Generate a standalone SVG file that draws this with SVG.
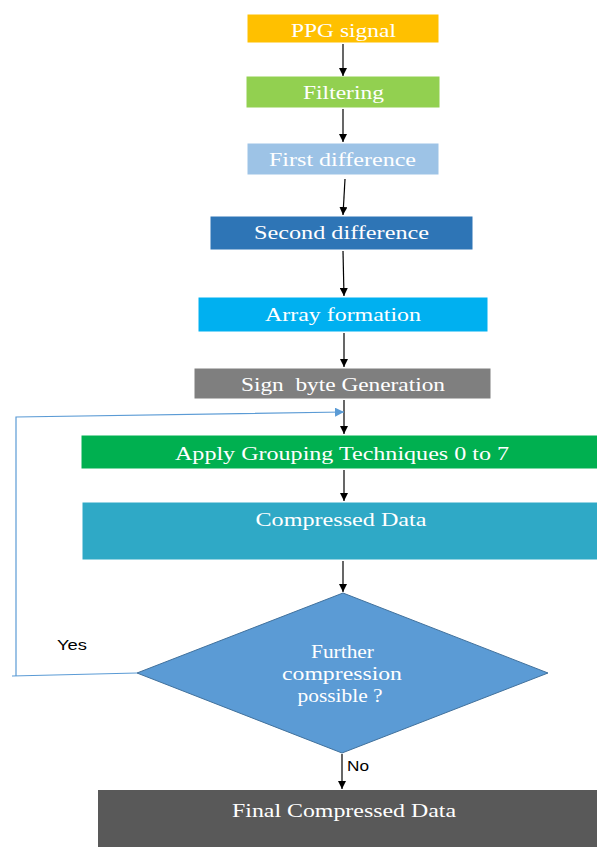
<svg xmlns="http://www.w3.org/2000/svg" width="597" height="847" viewBox="0 0 597 847">
  <style>
    .lbl { font-size: 19px; fill: #ffffff; text-anchor: middle; }
    .tag { font-family: 'Liberation Sans', Arial, sans-serif; font-size: 15px; fill: #000000; }
    .box { stroke: #ffffff; stroke-width: 1; }
    .flow { stroke: #000000; stroke-width: 1.2; fill: none; marker-end: url(#arrow); }
    .loop { stroke: #5B9BD5; stroke-width: 1.2; fill: none; }
  </style>
  <defs>
    <marker id="arrow" viewBox="0 0 10 10" refX="10" refY="5" markerWidth="8" markerHeight="8" markerUnits="userSpaceOnUse" orient="auto">
      <path d="M0,0 L10,5 L0,10 Z" fill="#000000"/>
    </marker>
    <marker id="arrowBlue" viewBox="0 0 10 10" refX="10" refY="5" markerWidth="9" markerHeight="9" markerUnits="userSpaceOnUse" orient="auto">
      <path d="M0,0 L10,5 L0,10 Z" fill="#5B9BD5"/>
    </marker>
  </defs>

  <g font-family="'Liberation Serif', 'DejaVu Serif', serif">
  <g id="ppg-signal">
    <rect class="box" x="247" y="14" width="192" height="29" fill="#FFC000"/>
    <text class="lbl" x="343.5" y="37" textLength="105" lengthAdjust="spacingAndGlyphs">PPG signal</text>
  </g>
  <g id="filtering">
    <rect class="box" x="246" y="76" width="194" height="32" fill="#92D050"/>
    <text class="lbl" x="343.5" y="99" textLength="81" lengthAdjust="spacingAndGlyphs">Filtering</text>
  </g>
  <g id="first-difference">
    <rect class="box" x="247" y="143" width="192" height="32" fill="#9DC3E6"/>
    <text class="lbl" x="342.5" y="166" textLength="147" lengthAdjust="spacingAndGlyphs">First difference</text>
  </g>
  <g id="second-difference">
    <rect class="box" x="210" y="216" width="263" height="34" fill="#2E75B6"/>
    <text class="lbl" x="341.5" y="239" textLength="175" lengthAdjust="spacingAndGlyphs">Second difference</text>
  </g>
  <g id="array-formation">
    <rect class="box" x="198" y="297" width="290" height="35" fill="#00B0F0"/>
    <text class="lbl" x="343" y="321" textLength="156" lengthAdjust="spacingAndGlyphs">Array formation</text>
  </g>
  <g id="sign-byte">
    <rect class="box" x="194" y="368" width="297" height="31" fill="#7F7F7F"/>
    <text class="lbl" x="343" y="391" textLength="204" lengthAdjust="spacingAndGlyphs" xml:space="preserve">Sign  byte Generation</text>
  </g>
  <g id="grouping">
    <rect class="box" x="81" y="435" width="520" height="34" fill="#00B050"/>
    <text class="lbl" x="342" y="460" textLength="334" lengthAdjust="spacingAndGlyphs">Apply Grouping Techniques 0 to 7</text>
  </g>
  <g id="compressed-data">
    <rect class="box" x="82" y="502" width="520" height="58" fill="#2FA9C6"/>
    <text class="lbl" x="341" y="526" textLength="171" lengthAdjust="spacingAndGlyphs">Compressed Data</text>
  </g>
  <g id="decision">
    <polygon points="343,593 548,673 342,753 137,673" fill="#5B9BD5" stroke="#41719C" stroke-width="1"/>
    <text class="lbl" x="342.5" y="658" textLength="63" lengthAdjust="spacingAndGlyphs">Further</text>
    <text class="lbl" x="342" y="680" textLength="120" lengthAdjust="spacingAndGlyphs">compression</text>
    <text class="lbl" x="340" y="702" textLength="85" lengthAdjust="spacingAndGlyphs">possible ?</text>
  </g>
  <g id="final-data">
    <rect x="98" y="790" width="505" height="60" fill="#595959"/>
    <text class="lbl" x="344" y="817" textLength="224" lengthAdjust="spacingAndGlyphs">Final Compressed Data</text>
  </g>
  </g>

  <g id="connectors">
    <line class="flow" x1="343" y1="44" x2="343" y2="76"/>
    <line class="flow" x1="343" y1="109" x2="343" y2="142"/>
    <line class="flow" x1="345" y1="179" x2="343" y2="215"/>
    <line class="flow" x1="343" y1="251" x2="344" y2="296"/>
    <line class="flow" x1="344" y1="333" x2="344" y2="367"/>
    <line class="flow" x1="344" y1="400" x2="344" y2="434"/>
    <line class="flow" x1="344" y1="470" x2="344" y2="501"/>
    <line class="flow" x1="343" y1="561" x2="343" y2="592"/>
    <line class="flow" x1="342" y1="754" x2="342" y2="789"/>
    <polyline class="loop" points="137,673 12,676"/>
    <polyline class="loop" points="16,676 16,417 344,412" marker-end="url(#arrowBlue)"/>
    <text class="tag" x="57" y="650" textLength="30" lengthAdjust="spacingAndGlyphs">Yes</text>
    <text class="tag" x="347" y="771" textLength="22" lengthAdjust="spacingAndGlyphs">No</text>
  </g>
</svg>
